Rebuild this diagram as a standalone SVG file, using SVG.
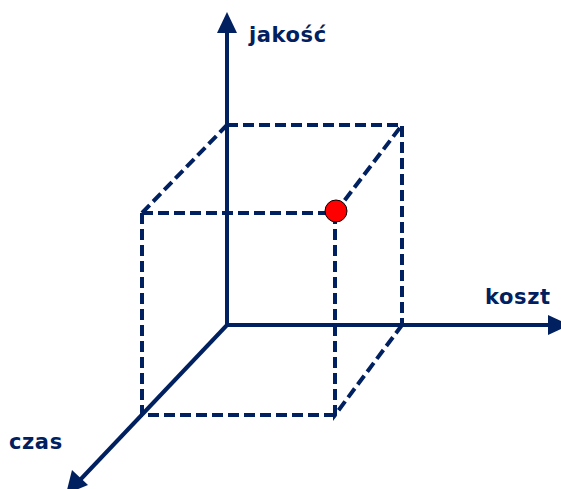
<svg xmlns="http://www.w3.org/2000/svg" width="561" height="489" viewBox="0 0 561 489">
<style>
.ax{stroke:#002060;stroke-width:4;fill:none}
.ds{stroke:#002060;stroke-width:4;fill:none;stroke-dasharray:11 5}
.lb{font-family:"DejaVu Sans",Verdana,sans-serif;font-weight:bold;font-size:21px;letter-spacing:0.6px;fill:#002060}
</style>
<g id="connectors">
<path class="ds" d="M227,125 H402 V325"/>
<path class="ds" d="M142,213 L227,125"/>
<path class="ds" d="M335,213 L402,125"/>
<path class="ds" d="M142,213 H335"/>
<path class="ds" d="M142,213 V415 H335"/>
<path class="ds" d="M335,213 V415 L402,325"/>
</g>
<g id="axis-quality">
<line class="ax" x1="227" y1="327" x2="227" y2="30"/>
<path d="M217,33 L227,12 L237,33 Z" fill="#002060"/>
</g>
<g id="axis-cost">
<line class="ax" x1="225" y1="325" x2="548" y2="325"/>
<path d="M548,315 L570,325 L548,335 Z" fill="#002060"/>
</g>
<g id="axis-time">
<line class="ax" x1="228" y1="324" x2="80" y2="480"/>
<path d="M72,470 L88,485 L66,494 Z" fill="#002060"/>
</g>
<g id="point">
<circle cx="336" cy="211" r="11" fill="#ff0000" stroke="#000" stroke-width="1"/>
</g>
<g id="labels">
<text class="lb" x="249" y="42">jakość</text>
<text class="lb" x="485" y="304">koszt</text>
<text class="lb" x="9" y="449">czas</text>
</g>
</svg>
